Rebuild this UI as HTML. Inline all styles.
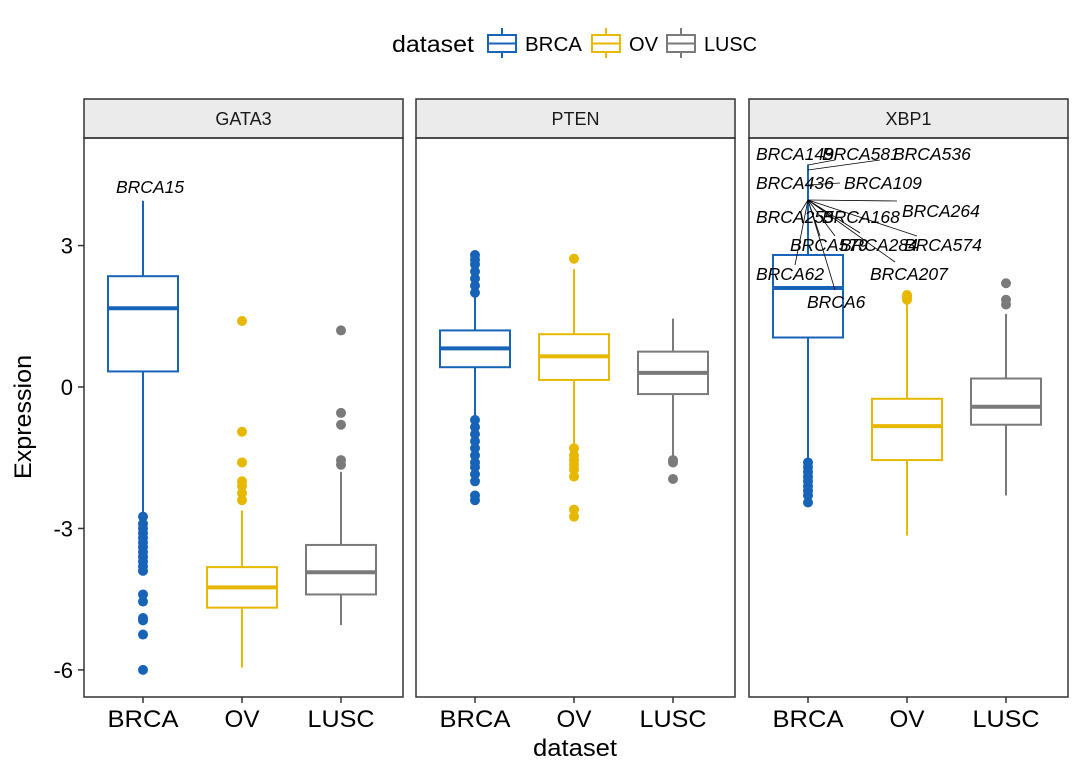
<!DOCTYPE html>
<html><head><meta charset="utf-8"><style>
body{margin:0;background:#fff}
svg{display:block;font-family:"Liberation Sans",sans-serif}
</style></head><body>
<svg id="chart" width="1080" height="771" viewBox="0 0 1080 771"></svg>
<script>
const genes = ["GATA3","PTEN","XBP1"];
const groups = ["BRCA","OV","LUSC"];
const colors = ["#1763B8","#E7B800","#7A7A7A"];
// [lowWhisker, q1, median, q3, highWhisker]
const statsGATA3 = [[-2.7,0.33,1.67,2.35,3.95],[-5.95,-4.68,-4.25,-3.82,-2.62],[-5.05,-4.4,-3.93,-3.35,-1.8]];
const statsPTEN = [[-0.65,0.42,0.82,1.2,1.95],[-1.2,0.15,0.65,1.12,2.5],[-1.5,-0.15,0.3,0.75,1.45]];
const statsXBP1 = [[-1.55,1.05,2.1,2.8,4.72],[-3.15,-1.55,-0.83,-0.25,1.75],[-2.3,-0.8,-0.42,0.18,1.55]];
const outGATA3 = [[-2.75,-2.9,-3.0,-3.1,-3.2,-3.3,-3.4,-3.5,-3.6,-3.7,-3.8,-3.9,-4.4,-4.55,-4.9,-4.95,-5.25,-6.0],[-2.4,-2.25,-2.1,-2.0,-1.6,-0.95,1.4],[-1.65,-1.55,-0.8,-0.55,1.2]];
const outPTEN = [[2.0,2.15,2.3,2.45,2.6,2.7,2.8,-0.7,-0.85,-1.0,-1.15,-1.3,-1.45,-1.6,-1.7,-1.85,-2.0,-2.3,-2.4],[2.72,-1.3,-1.45,-1.55,-1.65,-1.75,-1.9,-2.6,-2.75],[-1.55,-1.6,-1.95]];
const outXBP1 = [[-1.6,-1.7,-1.8,-1.9,-2.0,-2.1,-2.2,-2.3,-2.45],[1.85,1.9,1.95],[1.75,1.85,2.2]];
const yTicks = [3,0,-3,-6];
const allStats=[statsGATA3,statsPTEN,statsXBP1], allOut=[outGATA3,outPTEN,outXBP1];
const panelX=[84,416,749], panelW=319, panelTop=138, panelBottom=697;
const yScale=v=>387-v*47.15;
const xg=(p,g)=>panelX[p]+59+g*99;
const svg=document.getElementById('chart');
const NS="http://www.w3.org/2000/svg";
function mk(tag,attrs,parent){const e=document.createElementNS(NS,tag);for(const k in attrs)e.setAttribute(k,attrs[k]);(parent||svg).appendChild(e);return e;}
const tickW={BRCA:71,OV:35,LUSC:67};
// legend
let t=mk('text',{x:392,y:52,'font-size':23,fill:'#000',textLength:82,lengthAdjust:'spacingAndGlyphs'});t.textContent='dataset';


const legX=[488,592,667];
const legTW=[57,29,53];
groups.forEach((g,i)=>{
  const gr=mk('g',{});
  
  
  const x=legX[i],c=colors[i];
  mk('line',{x1:x+14,x2:x+14,y1:28,y2:35,stroke:c,'stroke-width':2},gr);
  mk('line',{x1:x+14,x2:x+14,y1:52,y2:58,stroke:c,'stroke-width':2},gr);
  mk('rect',{x:x,y:35,width:28,height:17,fill:'none',stroke:c,'stroke-width':2},gr);
  mk('line',{x1:x,x2:x+28,y1:43.5,y2:43.5,stroke:c,'stroke-width':2},gr);
  const tt=mk('text',{x:x+37,y:51,'font-size':20,textLength:legTW[i],lengthAdjust:'spacingAndGlyphs'},gr);tt.textContent=g;
});
// y axis
yTicks.forEach(v=>{
  mk('line',{x1:78,x2:84,y1:yScale(v),y2:yScale(v),stroke:'#333','stroke-width':1.5});
  const tt=mk('text',{x:73,y:yScale(v)+8,'font-size':22,'text-anchor':'end'});tt.textContent=v;
  
  
});
t=mk('text',{x:0,y:0,'font-size':24,'text-anchor':'middle',textLength:124,lengthAdjust:'spacingAndGlyphs',transform:'translate(31,417) rotate(-90)'});t.textContent='Expression';


t=mk('text',{x:575,y:756,'font-size':24,'text-anchor':'middle',textLength:84,lengthAdjust:'spacingAndGlyphs'});t.textContent='dataset';


genes.forEach((gene,p)=>{
  const px=panelX[p];
  const st=mk('rect',{x:px,y:99,width:panelW,height:39,fill:'#EBEBEB',stroke:'#333','stroke-width':1.5});
  
  
  const tt=mk('text',{x:px+panelW/2,y:125,'font-size':18,'text-anchor':'middle',fill:'#1a1a1a'});tt.textContent=gene;
  const pg=mk('g',{});
  
  
  groups.forEach((g,i)=>{
    const s=allStats[p][i],c=colors[i],cx=xg(p,i),hw=35;
    const bg=mk('g',{},pg);
    
    
    mk('line',{x1:cx,x2:cx,y1:yScale(s[0]),y2:yScale(s[1]),stroke:c,'stroke-width':2},bg);
    mk('line',{x1:cx,x2:cx,y1:yScale(s[3]),y2:yScale(s[4]),stroke:c,'stroke-width':2},bg);
    mk('rect',{x:cx-hw,y:yScale(s[3]),width:hw*2,height:yScale(s[1])-yScale(s[3]),fill:'#fff',stroke:c,'stroke-width':2},bg);
    mk('line',{x1:cx-hw,x2:cx+hw,y1:yScale(s[2]),y2:yScale(s[2]),stroke:c,'stroke-width':4},bg);
    allOut[p][i].forEach(v=>{const d=mk('circle',{cx:cx,cy:yScale(v),r:5,fill:c},bg);
      
      });
    mk('line',{x1:cx,x2:cx,y1:panelBottom,y2:panelBottom+6,stroke:'#333','stroke-width':1.5});
    const xt=mk('text',{x:cx,y:727,'font-size':24,'text-anchor':'middle',textLength:tickW[g],lengthAdjust:'spacingAndGlyphs'});xt.textContent=g;
    
    
  });
  mk('rect',{x:px,y:panelTop,width:panelW,height:panelBottom-panelTop,fill:'none',stroke:'#333','stroke-width':1.5});
});
// labels
const lab=(txt,x,yy)=>{const e=mk('text',{x:x,y:yy,'font-size':17.5,'font-style':'italic'});e.textContent=txt;
  
  };
lab('BRCA15',116,193);
const xbLabels=[['BRCA149',756,160],['BRCA581',822,160],['BRCA536',893,160],['BRCA436',756,189],['BRCA109',844,189],['BRCA255',756,223],['BRCA168',822,223],['BRCA264',902,217],['BRCA579',790,251],['BRCA284',840,251],['BRCA574',904,251],['BRCA62',756,280],['BRCA207',870,280],['BRCA6',807,308]];
const lines=[[808,170,880,160],[808,165,835,160],[808,185,840,183],[808,200,897,201],[808,200,917,236],[808,200,895,262],[808,200,860,233],[808,200,835,236],[808,200,820,236],[808,200,835,290],[808,200,795,265],[808,200,800,213]];
lines.forEach(l=>mk('line',{x1:l[0],y1:l[1],x2:l[2],y2:l[3],stroke:'#000','stroke-width':0.8}));
xbLabels.forEach(l=>lab(l[0],l[1],l[2]));
</script>
</body></html>
